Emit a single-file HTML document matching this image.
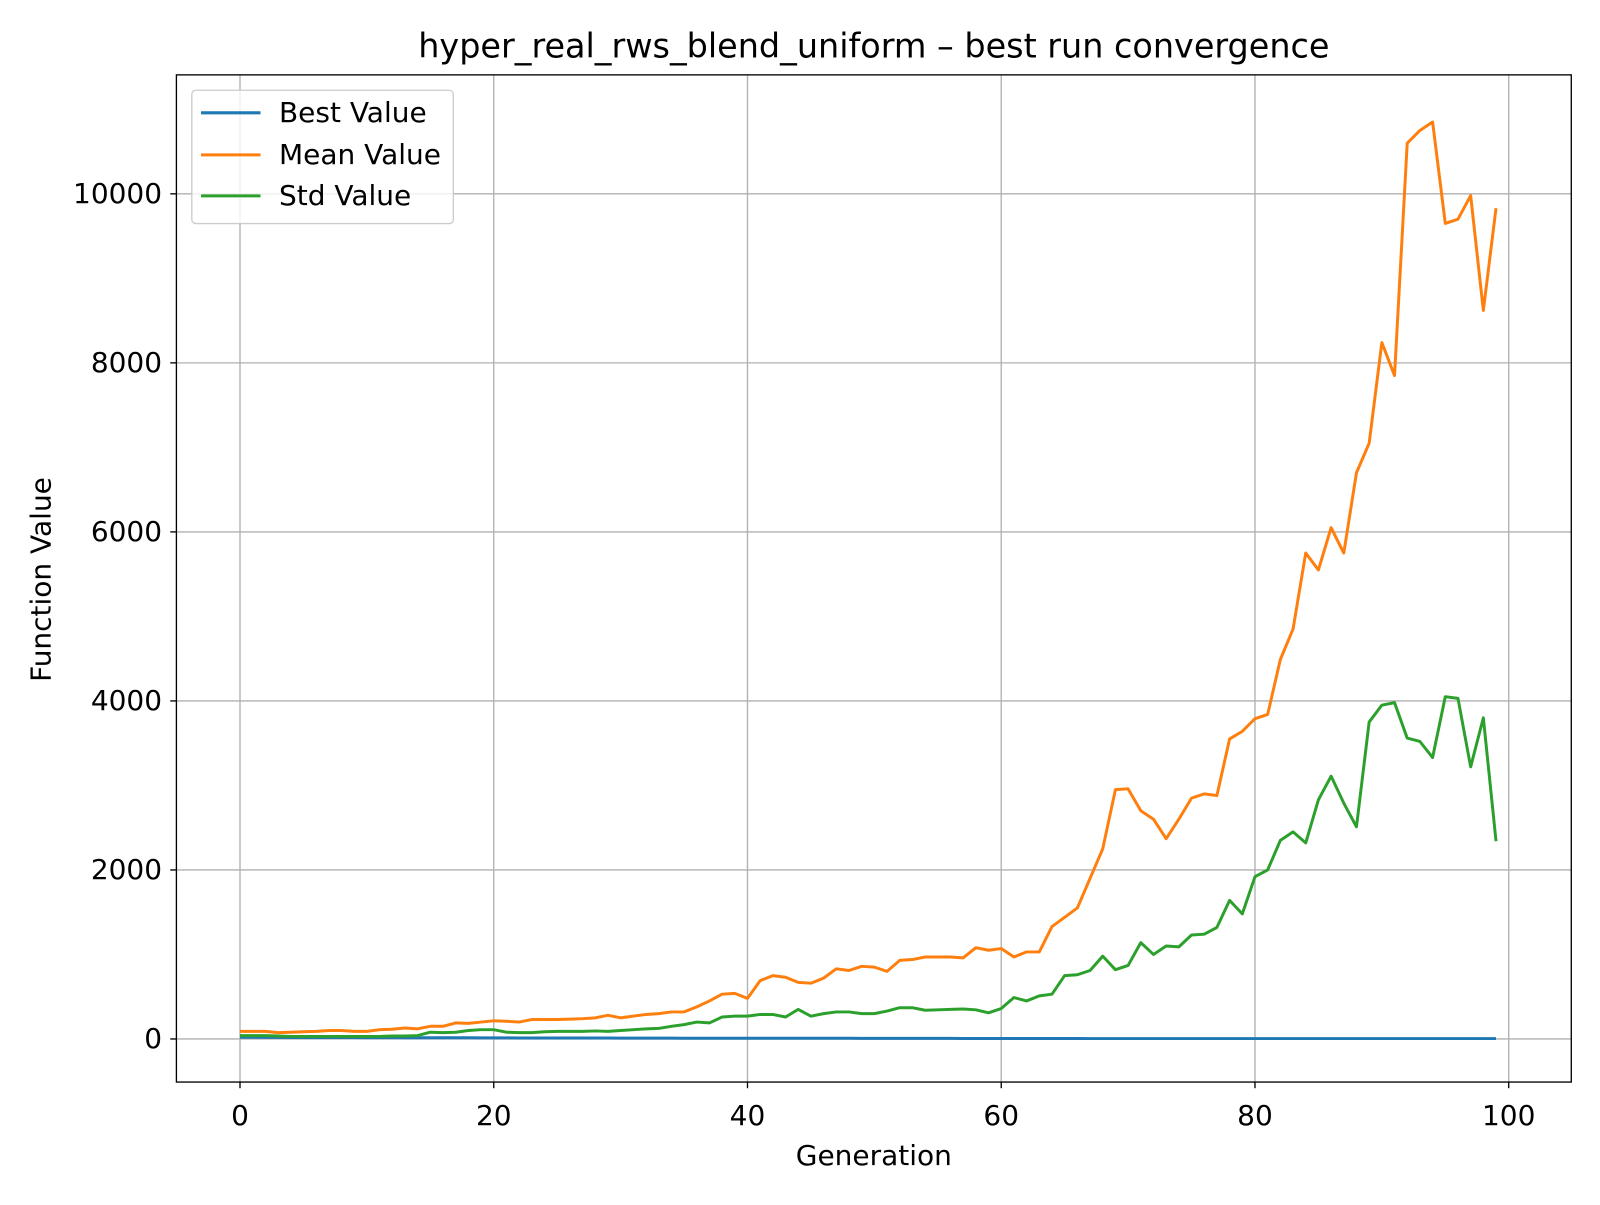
<!DOCTYPE html>
<html><head><meta charset="utf-8">
<style>
html,body{margin:0;padding:0;background:#fff;}
svg text{font-family:"DejaVu Sans","Liberation Sans",sans-serif;fill:#000;}
</style></head>
<body>
<svg id="chart" width="1600" height="1200" viewBox="0 0 1600 1200" xmlns="http://www.w3.org/2000/svg">
<rect x="0" y="0" width="1600" height="1200" fill="#fff"/>
<g transform="scale(1.02564)">
<g id="grid"></g>
<g id="series"></g>
<rect x="172" y="73" width="1360" height="982" fill="none" stroke="#000" stroke-width="1.3"/>
<g id="ticks"></g>
<text x="852" y="56" font-size="32.6" text-anchor="middle">hyper_real_rws_blend_uniform – best run convergence</text>
<text x="852" y="1136" font-size="27.3" text-anchor="middle">Generation</text>
<text x="49" y="565" font-size="27.3" text-anchor="middle" transform="rotate(-90 49 565)">Function Value</text>
<g>
<rect x="187" y="88" width="255" height="130" rx="4" fill="#fff" fill-opacity="0.8" stroke="#ccc" stroke-width="1.3"/>
<g><line x1="196" y1="110" x2="254" y2="110" stroke="#1f77b4" stroke-width="3"/><text x="272" y="119" font-size="27.3">Best Value</text></g>
<g><line x1="196" y1="151" x2="254" y2="151" stroke="#ff7f0e" stroke-width="3"/><text x="272" y="160" font-size="27.3">Mean Value</text></g>
<g><line x1="196" y1="191" x2="254" y2="191" stroke="#2ca02c" stroke-width="3"/><text x="272" y="200" font-size="27.3">Std Value</text></g>
</g>
</g>
</svg>
<script>
const xTicks=[0,20,40,60,80,100];
const yTicks=[0,2000,4000,6000,8000,10000];
const meanValues=[90,90,90,75,80,85,90,100,100,90,90,110,115,130,120,150,150,190,185,200,215,210,200,230,230,230,235,240,250,280,250,270,290,300,320,320,380,450,530,540,480,690,750,730,670,660,720,830,810,860,850,800,930,940,970,970,970,960,1080,1050,1070,970,1030,1030,1330,1440,1550,1900,2250,2950,2960,2700,2600,2370,2600,2850,2900,2880,3550,3640,3790,3840,4490,4850,5750,5550,6050,5750,6700,7050,8240,7850,10600,10750,10850,9650,9700,9980,8620,9830];
const stdValues=[40,40,40,35,30,30,30,30,30,30,30,30,35,35,40,80,75,80,100,110,110,80,75,75,85,90,90,90,95,90,100,110,120,125,150,170,200,190,260,270,270,290,290,260,350,270,300,320,320,300,300,330,370,370,340,345,350,355,345,310,360,490,450,510,530,750,760,810,980,820,870,1140,1000,1100,1090,1230,1240,1320,1640,1480,1920,2000,2350,2450,2320,2830,3110,2790,2510,3750,3950,3980,3560,3520,3330,4050,4030,3220,3800,2340];
const bestValues=[20,20,19,19,18,18,18,17,17,17,16,16,16,15,15,15,14,14,14,13,13,13,12,12,12,12,11,11,11,11,10,10,10,10,10,9,9,9,9,9,9,8,8,8,8,8,8,8,8,7,7,7,7,7,7,7,7,6,6,6,6,6,6,6,6,6,6,5,5,5,5,5,5,5,5,5,5,5,5,5,5,5,5,5,5,5,5,5,5,5,5,5,5,5,5,5,5,5,5,5];
const NS='http://www.w3.org/2000/svg';
const xs=v=>234+v*(1471-234)/100;
const ys=v=>1013-v*(1013-189)/10000;
const grid=document.getElementById('grid'),ticks=document.getElementById('ticks'),series=document.getElementById('series');
function mk(tag,attrs,parent){const e=document.createElementNS(NS,tag);for(const k in attrs)e.setAttribute(k,attrs[k]);parent.appendChild(e);return e;}
xTicks.forEach(t=>{
 const g=mk('line',{x1:xs(t),x2:xs(t),y1:73,y2:1055,stroke:'#b0b0b0','stroke-width':1.3},grid);
 
 
 const tk=mk('line',{x1:xs(t),x2:xs(t),y1:1055,y2:1061,stroke:'#000','stroke-width':1.3},ticks);
 
 
 const tx=mk('text',{x:xs(t),y:1097,'font-size':27.3,'text-anchor':'middle'},ticks);
 tx.textContent=t;
 
 
});
yTicks.forEach(t=>{
 const g=mk('line',{x1:172,x2:1532,y1:ys(t),y2:ys(t),stroke:'#b0b0b0','stroke-width':1.3},grid);
 
 
 const tk=mk('line',{x1:166,x2:172,y1:ys(t),y2:ys(t),stroke:'#000','stroke-width':1.3},ticks);
 
 
 const tx=mk('text',{x:158,y:ys(t)+9,'font-size':27.3,'text-anchor':'end'},ticks);
 tx.textContent=t;
 
 
});
function line(vals,color,name){
 const d=vals.map((v,i)=>(i?'L':'M')+xs(i).toFixed(2)+','+ys(v).toFixed(2)).join('');
 const p=mk('path',{d:d,fill:'none',stroke:color,'stroke-width':2.9,'stroke-linejoin':'round'},series);
 
 
}
line(bestValues,'#1f77b4','best-value-line');
line(meanValues,'#ff7f0e','mean-value-line');
line(stdValues,'#2ca02c','std-value-line');
</script>
</body></html>
